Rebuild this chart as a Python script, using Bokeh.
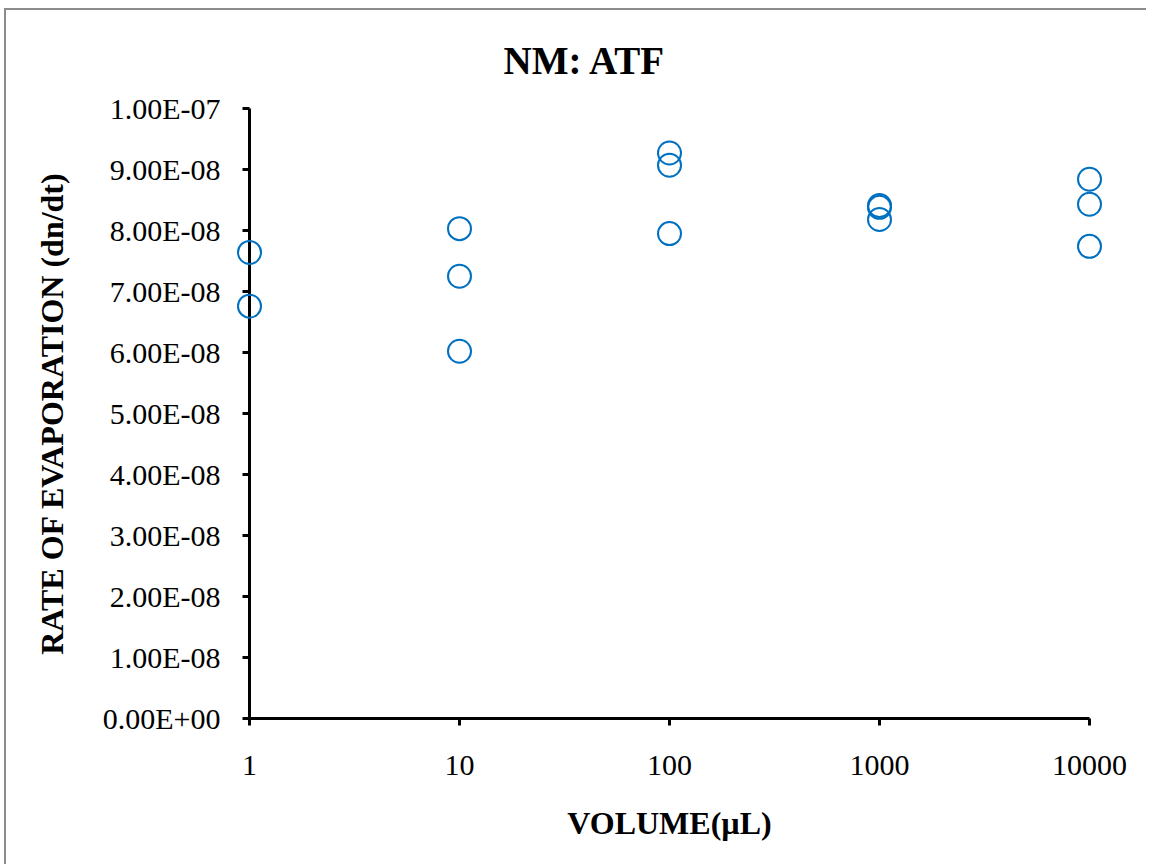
from bokeh.plotting import figure
from bokeh.models import Range1d, FixedTicker, CustomJSTickFormatter, ColumnDataSource
from bokeh.embed import file_html
from bokeh.resources import INLINE

# data
volume_ul = [1, 1, 10, 10, 10, 100, 100, 100, 1000, 1000, 1000, 10000, 10000, 10000]
rate_dn_dt = [7.64e-8, 6.76e-8,
              8.03e-8, 7.25e-8, 6.02e-8,
              9.27e-8, 9.07e-8, 7.95e-8,
              8.41e-8, 8.38e-8, 8.18e-8,
              8.84e-8, 8.43e-8, 7.74e-8]
x_ticks = [1, 10, 100, 1000, 10000]
y_ticks = [0, 1e-8, 2e-8, 3e-8, 4e-8, 5e-8, 6e-8, 7e-8, 8e-8, 9e-8, 1e-7]

FONT = "Liberation Serif"

p = figure(width=1142, height=856, output_backend="svg", toolbar_location=None,
           x_axis_type="log",
           x_range=Range1d(1, 10000), y_range=Range1d(0, 1e-7),
           min_border_left=243, min_border_right=59, min_border_top=98, min_border_bottom=148)
p.grid.visible = False
p.outline_line_color = None
p.background_fill_color = "white"
p.border_fill_color = "white"
p.styles = {"border-left": "2px solid #8c8c8c", "border-top": "2px solid #8c8c8c",
            "margin-left": "4px", "margin-top": "8px"}

p.title.text = "NM: ATF"
p.title.text_font = FONT
p.title.text_font_size = "39px"
p.title.text_font_style = "bold"
p.title.text_color = "black"
p.title.align = "left"
p.title.vertical_align = "top"
p.title.offset = 254
p.title.standoff = 50

src = ColumnDataSource(dict(x=volume_ul, y=rate_dn_dt))
p.scatter("x", "y", source=src, size=23, marker="circle", fill_color=None,
          line_color="#0070C0", line_width=2, level="overlay")

xaxis = p.xaxis[0]
xaxis.ticker = FixedTicker(ticks=x_ticks)
xaxis.formatter = CustomJSTickFormatter(code="return Math.round(tick).toString();")
xaxis.axis_label = "VOLUME(µL)"
yaxis = p.yaxis[0]
yaxis.ticker = FixedTicker(ticks=y_ticks)
yaxis.formatter = CustomJSTickFormatter(code="""
const s = tick.toExponential(2).split('e');
let e = parseInt(s[1]);
const sign = e < 0 ? '-' : '+';
e = Math.abs(e);
return s[0] + 'E' + sign + (e < 10 ? '0' : '') + e;
""")
yaxis.axis_label = "RATE OF EVAPORATION (dn/dt)"

for ax in (xaxis, yaxis):
    ax.axis_line_width = 3
    ax.axis_line_color = "black"
    ax.major_tick_line_width = 3
    ax.major_tick_line_color = "black"
    ax.major_tick_out = 7
    ax.major_tick_in = 0
    ax.minor_tick_out = 0
    ax.minor_tick_in = 0
    ax.minor_tick_line_color = None
    ax.major_label_text_font = FONT
    ax.major_label_text_font_size = "30px"
    ax.major_label_text_color = "black"
    ax.axis_label_text_font = FONT
    ax.axis_label_text_font_size = "32px"
    ax.axis_label_text_font_style = "bold"
    ax.axis_label_text_color = "black"

xaxis.major_label_standoff = 30
xaxis.axis_label_standoff = 27
yaxis.major_label_standoff = 22
yaxis.axis_label_standoff = 30

open("out.html", "w").write(file_html(p, INLINE))
